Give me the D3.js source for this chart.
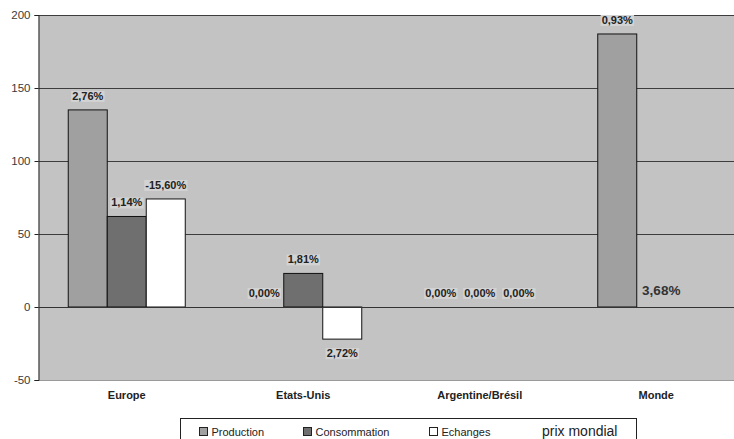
<!DOCTYPE html>
<html>
<head>
<meta charset="utf-8">
<script src="https://cdn.jsdelivr.net/npm/d3@7"></script>
<style>
  html, body { margin: 0; padding: 0; background: #fff; }
  svg { display: block; font-family: "Liberation Sans", Arial, sans-serif; }
</style>
</head>
<body>
<svg id="chart" width="734" height="439"></svg>
<script>
// Categories and series
const categories = ["Europe", "Etats-Unis", "Argentine/Brésil", "Monde"];
const seriesNames = ["Production", "Consommation", "Echanges"];
const production = [135, 0, 0, 187];
const consommation = [62, 23, 0, 0];
const echanges = [74, -22, 0, 0];

// Percentage labels written on the bars
const productionLabels = ["2,76%", "0,00%", "0,00%", "0,93%"];
const consommationLabels = ["1,14%", "1,81%", "0,00%", ""];
const echangesLabels = ["-15,60%", "2,72%", "0,00%", ""];

// World price change, written next to the Monde group
const prixMondialLabel = "prix mondial";
const prixMondialValue = "3,68%";

const yTicks = [-50, 0, 50, 100, 150, 200];

const seriesValues = [production, consommation, echanges];
const seriesLabels = [productionLabels, consommationLabels, echangesLabels];
const seriesFill = ["#a0a0a0", "#6f6f6f", "#ffffff"];

const svg = d3.select("#chart");

const plot = { left: 38.5, right: 744.5, top: 15, bottom: 380 };

const x = d3.scaleBand().domain(categories).range([plot.left, plot.right]).padding(0);
const groupW = 117;
const xs = d3.scaleBand().domain(seriesNames)
  .range([x.bandwidth() / 2 - groupW / 2, x.bandwidth() / 2 + groupW / 2]).padding(0);
const y = d3.scaleLinear().domain([-50, 200]).range([plot.bottom, plot.top]);

// plot background
svg.append("rect")
  .attr("x", plot.left).attr("y", plot.top)
  .attr("width", plot.right - plot.left).attr("height", plot.bottom - plot.top)
  .attr("fill", "#c3c3c3");

// horizontal grid lines
svg.append("g").selectAll("line").data(yTicks).join("line")
  .attr("x1", plot.left).attr("x2", plot.right)
  .attr("y1", d => Math.round(y(d)) + 0.5).attr("y2", d => Math.round(y(d)) + 0.5)
  .attr("stroke", d => d === -50 ? "#9a9a9a" : "#3d3d3d")
  .attr("stroke-width", 1);

// y axis
const yAxis = d3.axisLeft(y).tickValues(yTicks).tickFormat(d => String(d)).tickSize(4).tickPadding(4);
const ya = svg.append("g").attr("transform", `translate(${plot.left},0)`).call(yAxis);
ya.select(".domain").attr("stroke", "#222");
ya.selectAll(".tick line").attr("stroke", "#222");
ya.selectAll(".tick text")
  .attr("font-size", 11.5).attr("fill", "#3a3a3a")
  .attr("font-family", "Liberation Sans, Arial, sans-serif");

// bars
const bars = [];
categories.forEach((c, i) => {
  seriesNames.forEach((s, j) => {
    bars.push({ cat: c, ser: s, si: j, v: seriesValues[j][i], label: seriesLabels[j][i] });
  });
});

svg.append("g").selectAll("rect").data(bars.filter(b => b.v !== 0)).join("rect")
  .attr("x", b => x(b.cat) + xs(b.ser))
  .attr("width", xs.bandwidth())
  .attr("y", b => Math.min(y(b.v), y(0)))
  .attr("height", b => Math.abs(y(b.v) - y(0)))
  .attr("fill", b => seriesFill[b.si])
  .attr("stroke", "#111")
  .attr("stroke-width", 1);

// zero line on top of bars
svg.append("line")
  .attr("x1", plot.left).attr("x2", plot.right)
  .attr("y1", Math.round(y(0)) + 0.5).attr("y2", Math.round(y(0)) + 0.5)
  .attr("stroke", "#333").attr("stroke-width", 1.2);

// bar value labels
const lab = svg.append("g")
  .attr("font-size", 11).attr("font-weight", "bold").attr("fill", "#222")
  .attr("text-anchor", "middle");

bars.filter(b => b.label).forEach(b => {
  const cx = x(b.cat) + xs(b.ser) + xs.bandwidth() / 2;
  const by = b.v >= 0 ? y(b.v) - 10 : y(b.v) + 18;
  const t = lab.append("text").attr("x", cx).attr("y", by).text(b.label);
  const bb = t.node().getBBox();
  lab.insert("rect", "text")
    .attr("x", bb.x - 1).attr("y", bb.y + 1)
    .attr("width", bb.width + 2).attr("height", bb.height - 1)
    .attr("fill", "#d3d3d3");
});

// world price annotation next to the Monde group
svg.append("text")
  .attr("x", x("Monde") + xs("Consommation") + xs.bandwidth() / 2 + 5)
  .attr("y", y(0) - 12)
  .attr("text-anchor", "middle")
  .attr("font-size", 13.5).attr("font-weight", "bold").attr("fill", "#333")
  .text(prixMondialValue);

// category labels
svg.append("g").selectAll("text").data(categories).join("text")
  .attr("x", c => x(c) + x.bandwidth() / 2)
  .attr("y", 399)
  .attr("text-anchor", "middle")
  .attr("font-size", 11).attr("font-weight", "bold").attr("fill", "#222")
  .text(c => c);

// legend
const lg = svg.append("g");
lg.append("rect")
  .attr("x", 180.5).attr("y", 418.5).attr("width", 456).attr("height", 30)
  .attr("fill", "#fff").attr("stroke", "#222").attr("stroke-width", 1);

const legendX = [199, 303, 429];
seriesNames.forEach((s, j) => {
  lg.append("rect")
    .attr("x", legendX[j] + 0.5).attr("y", 427.5).attr("width", 8).attr("height", 8)
    .attr("fill", seriesFill[j]).attr("stroke", "#222").attr("stroke-width", 1);
  lg.append("text")
    .attr("x", legendX[j] + 12.5).attr("y", 435.5)
    .attr("font-size", 11).attr("fill", "#222")
    .text(s);
});
lg.append("text")
  .attr("x", 542).attr("y", 436)
  .attr("font-size", 14).attr("fill", "#222")
  .text(prixMondialLabel);
</script>
</body>
</html>
